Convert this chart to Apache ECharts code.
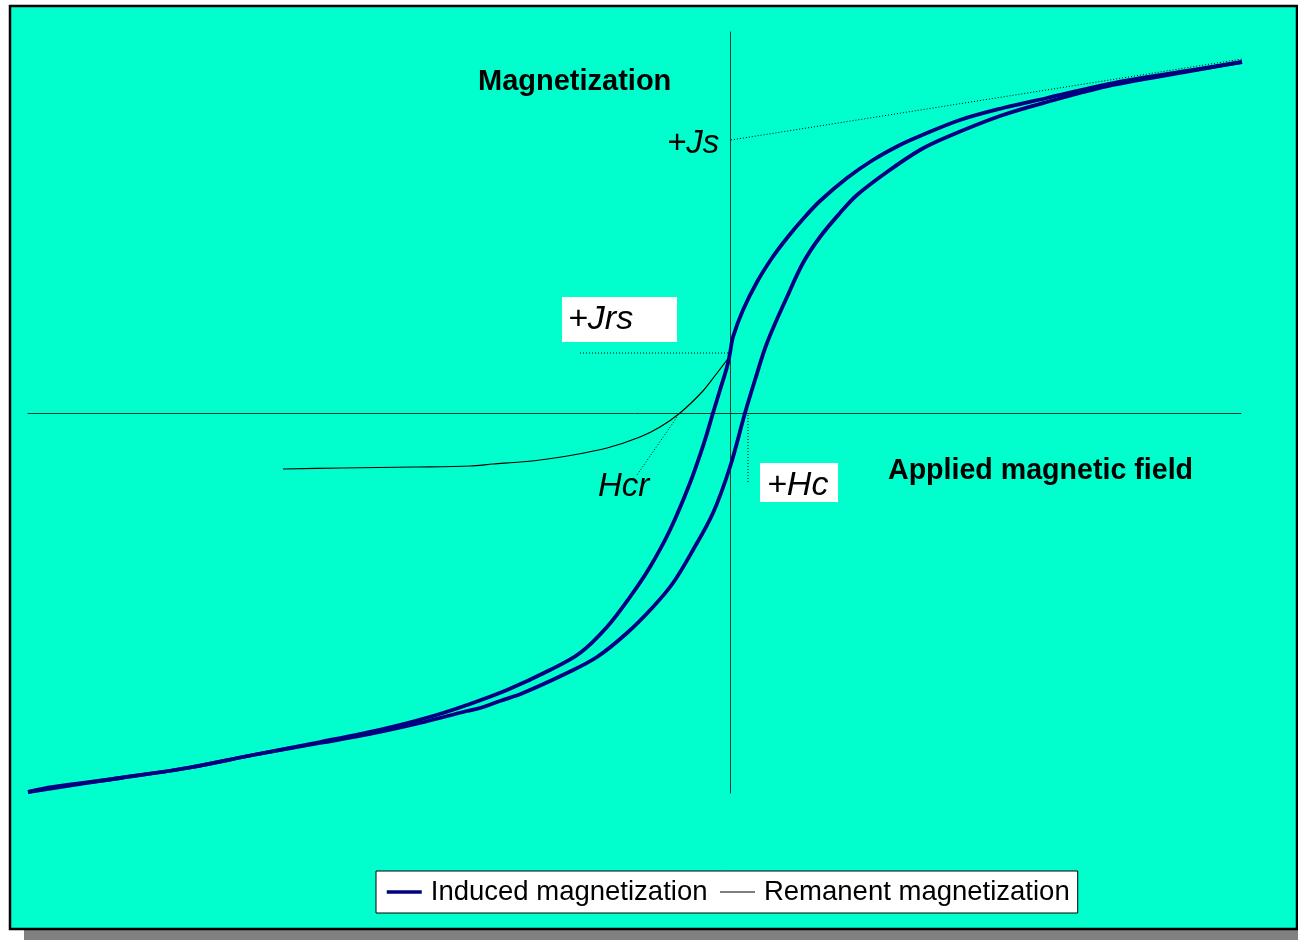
<!DOCTYPE html>
<html>
<head>
<meta charset="utf-8">
<script src="https://cdn.jsdelivr.net/npm/echarts@6/dist/echarts.min.js"></script>
<style>
  html, body { margin: 0; padding: 0; background: #ffffff; }
  #chart { width: 1298px; height: 940px; }
</style>
</head>
<body>
<div id="chart"></div>
<script>
// Applied field H and magnetization J (arbitrary units); axes cross at the origin.
// Descending branch of the hysteresis loop (from +saturation to -saturation).
const descH = [5.12, 4.50, 3.83, 3.17, 2.73, 2.30, 1.90, 1.70, 1.43, 1.17, 0.90, 0.73, 0.57, 0.42, 0.27, 0.13, 0.03, 0.00, -0.03, -0.10, -0.17, -0.26, -0.40, -0.60, -0.80, -1.00, -1.23, -1.50, -1.80, -2.23, -2.63, -2.97, -3.43, -4.10, -4.77, -5.43, -6.10, -6.77, -7.02];
const descJ = [3.51, 3.41, 3.30, 3.15, 3.05, 2.93, 2.77, 2.68, 2.53, 2.35, 2.12, 1.94, 1.75, 1.55, 1.31, 1.03, 0.76, 0.60, 0.46, 0.23, 0.00, -0.30, -0.70, -1.17, -1.54, -1.84, -2.14, -2.40, -2.57, -2.77, -2.92, -3.03, -3.15, -3.29, -3.42, -3.55, -3.65, -3.74, -3.79];

// Ascending branch (from -saturation back to +saturation).
const ascH = [-7.02, -6.10, -5.43, -4.77, -4.10, -3.60, -3.10, -2.63, -2.50, -2.30, -2.07, -1.63, -1.33, -1.03, -0.77, -0.57, -0.37, -0.17, 0.00, 0.15, 0.25, 0.37, 0.57, 0.73, 0.90, 1.10, 1.27, 1.57, 1.90, 2.17, 2.70, 3.17, 3.83, 4.50, 5.12];
const ascJ = [-3.79, -3.65, -3.55, -3.42, -3.30, -3.21, -3.10, -2.98, -2.95, -2.88, -2.80, -2.60, -2.44, -2.20, -1.94, -1.70, -1.37, -1.00, -0.54, 0.00, 0.33, 0.70, 1.16, 1.50, 1.76, 2.00, 2.18, 2.41, 2.63, 2.76, 2.97, 3.11, 3.28, 3.40, 3.51];

// Remanent magnetization curve.
const remH = [-4.47, -3.88, -3.15, -2.60, -2.37, -2.10, -1.90, -1.57, -1.23, -0.90, -0.70, -0.50, -0.28, -0.16, 0.00];
const remJ = [-0.56, -0.55, -0.54, -0.53, -0.51, -0.49, -0.47, -0.42, -0.35, -0.24, -0.14, 0.00, 0.21, 0.36, 0.57];

// Dotted construction lines: saturation tangent, Jrs, Hc and Hcr markers.
const jsLineH = [0.01, 5.12];
const jsLineJ = [2.73, 3.54];
const jrsLineH = [-1.50, -0.02];
const jrsLineJ = [0.60, 0.60];
const hcLineH = [0.18, 0.18];
const hcLineJ = [-0.02, -0.71];
const hcrLineH = [-0.53, -0.93];
const hcrLineJ = [-0.04, -0.62];

const seriesNames = ['Induced magnetization', 'Remanent magnetization'];

const pairs = (xs, ys) => xs.map((x, i) => [x, ys[i]]);

const FONT = "'Liberation Sans', Arial, sans-serif";
const NAVY = '#000080';

const chart = echarts.init(document.getElementById('chart'), null, { renderer: 'canvas' });

const dotted = (xs, ys) => ({
  type: 'line',
  data: pairs(xs, ys),
  symbol: 'none',
  silent: true,
  lineStyle: { color: '#000', width: 1, type: [1, 2] },
  z: 1
});

const option = {
  backgroundColor: '#ffffff',
  animation: false,
  grid: { left: 28, right: 57, top: 32, bottom: 147 },
  xAxis: {
    type: 'value', min: -7.02, max: 5.11,
    axisLine: { show: true, onZero: true, lineStyle: { color: '#0b3d32', width: 1 } },
    axisTick: { show: false }, axisLabel: { show: false }, splitLine: { show: false }
  },
  yAxis: {
    type: 'value', min: -3.80, max: 3.81,
    axisLine: { show: true, onZero: true, lineStyle: { color: '#0b3d32', width: 1 } },
    axisTick: { show: false }, axisLabel: { show: false }, splitLine: { show: false }
  },
  legend: {
    data: [
      { name: seriesNames[0], lineStyle: { width: 3.5, color: NAVY } },
      { name: seriesNames[1], lineStyle: { width: 1, color: '#000' } }
    ],
    left: 376, top: 871,
    orient: 'horizontal',
    backgroundColor: '#ffffff',
    borderColor: '#000',
    borderWidth: 1,
    padding: [7, 8, 7, 9],
    itemWidth: 35, itemHeight: 14, itemGap: 12,
    selectedMode: false,
    itemStyle: { opacity: 0 },
    textStyle: { fontFamily: FONT, fontSize: 27.5, color: '#000', padding: [0, 0, 0, 4] }
  },
  graphic: {
    elements: [
      { type: 'rect', z: -20, shape: { x: 24, y: 20, width: 1290, height: 925 }, style: { fill: '#808080' } },
      { type: 'rect', z: -19, shape: { x: 10, y: 6, width: 1287, height: 923 }, style: { fill: '#00FFCC', stroke: '#000', lineWidth: 2.5 } },
      { type: 'text', z: 5, left: 478, top: 67, style: { text: 'Magnetization', font: "bold 29px " + FONT, fill: '#000' } },
      { type: 'text', z: 5, left: 888, top: 457, style: { text: 'Applied magnetic field', font: "bold 28.6px " + FONT, fill: '#000' } },
      { type: 'text', z: 5, left: 667, top: 127, style: { text: '+Js', font: "italic 33px " + FONT, fill: '#000' } },
      { type: 'rect', z: 4, shape: { x: 562, y: 297, width: 115, height: 45 }, style: { fill: '#ffffff' } },
      { type: 'text', z: 5, left: 568, top: 303, style: { text: '+Jrs', font: "italic 34px " + FONT, fill: '#000' } },
      { type: 'text', z: 5, left: 598, top: 470, style: { text: 'Hcr', font: "italic 33px " + FONT, fill: '#000' } },
      { type: 'rect', z: 4, shape: { x: 760, y: 463, width: 78, height: 39 }, style: { fill: '#ffffff' } },
      { type: 'text', z: 5, left: 767, top: 469, style: { text: '+Hc', font: "italic 34px " + FONT, fill: '#000' } }
    ]
  },
  series: [
    {
      name: seriesNames[0], type: 'line', data: pairs(descH, descJ),
      symbol: 'none', smooth: 0.35, lineStyle: { color: NAVY, width: 3.8 }, itemStyle: { color: NAVY }, z: 3
    },
    {
      name: seriesNames[0], type: 'line', data: pairs(ascH, ascJ),
      symbol: 'none', smooth: 0.35, lineStyle: { color: NAVY, width: 3.8 }, itemStyle: { color: NAVY }, z: 3
    },
    {
      name: seriesNames[1], type: 'line', data: pairs(remH, remJ),
      symbol: 'none', smooth: 0.3, lineStyle: { color: '#000', width: 1.2 }, itemStyle: { color: '#000' }, z: 2
    },
    dotted(jsLineH, jsLineJ),
    dotted(jrsLineH, jrsLineJ),
    dotted(hcLineH, hcLineJ),
    dotted(hcrLineH, hcrLineJ)
  ]
};

chart.setOption(option);
</script>
</body>
</html>
